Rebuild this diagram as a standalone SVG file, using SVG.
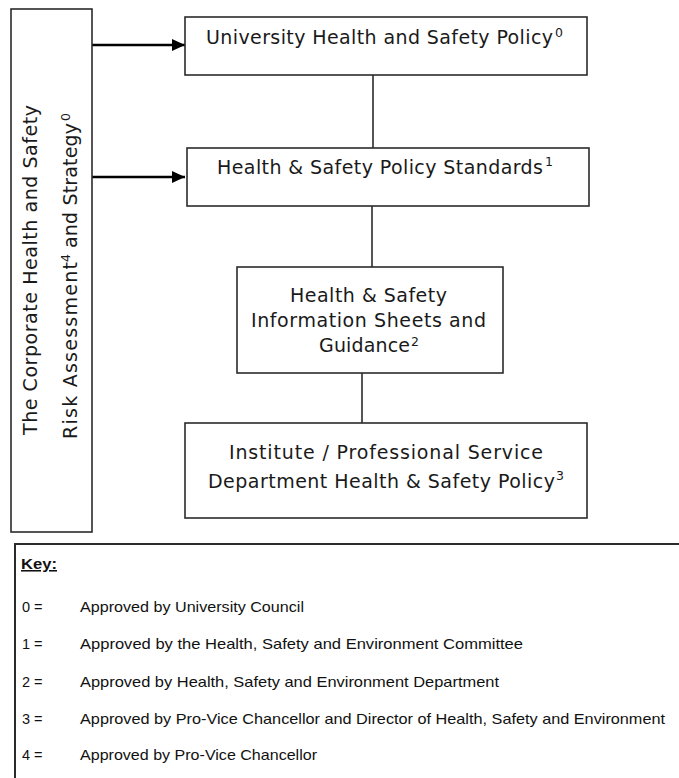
<svg xmlns="http://www.w3.org/2000/svg" width="679" height="778" viewBox="0 0 679 778">
  <style>
    .box { fill: #ffffff; stroke: #2b2b2b; stroke-width: 1.6; }
    .link { stroke: #2b2b2b; stroke-width: 1.6; fill: none; }
    .arrow { stroke: #000000; stroke-width: 2.6; fill: none; }
    .t { font-family: "DejaVu Sans", Verdana, sans-serif; font-size: 19px; fill: #1a1a1a; }
    .sup { font-family: "DejaVu Sans", Verdana, sans-serif; font-size: 12.5px; fill: #1a1a1a; }
    .key { font-family: "Liberation Sans", Arial, sans-serif; font-size: 14.5px; fill: #111111; }
    .keyhead { font-family: "Liberation Sans", Arial, sans-serif; font-size: 15.5px; font-weight: bold; fill: #111111; text-decoration: underline; }
  </style>
  <defs>
    <marker id="head" markerUnits="userSpaceOnUse" markerWidth="14" markerHeight="12" refX="13" refY="6" orient="auto">
      <path d="M0,0 L13,6 L0,12 Z" fill="#000000"/>
    </marker>
  </defs>

  <rect width="679" height="778" fill="#ffffff"/>

  <!-- connectors -->
  <g id="connectors">
    <line class="arrow" x1="92" y1="45" x2="185" y2="45" marker-end="url(#head)"/>
    <line class="arrow" x1="92" y1="177" x2="185" y2="177" marker-end="url(#head)"/>
    <line class="link" x1="373" y1="75" x2="373" y2="148"/>
    <line class="link" x1="372" y1="206" x2="372" y2="267"/>
    <line class="link" x1="362" y1="373" x2="362" y2="423"/>
  </g>

  <!-- corporate strategy side panel -->
  <g id="corporate-strategy">
    <rect class="box" x="11" y="9" width="81" height="523"/>
    <g transform="rotate(-90)">
      <text class="t" x="-435" y="37" textLength="330" lengthAdjust="spacing">The Corporate Health and Safety</text>
      <text class="t" x="-439" y="77" textLength="177" lengthAdjust="spacing">Risk Assessment</text>
      <text class="sup" x="-262" y="70">4</text>
      <text class="t" x="-248" y="77" textLength="125" lengthAdjust="spacing">and Strategy</text>
      <text class="sup" x="-121" y="70">0</text>
    </g>
  </g>

  <g id="university-policy">
    <rect class="box" x="185" y="17" width="402" height="58"/>
    <text class="t" x="206" y="44" textLength="347" lengthAdjust="spacing">University Health and Safety Policy</text>
    <text class="sup" x="555" y="37">0</text>
  </g>

  <g id="policy-standards">
    <rect class="box" x="187" y="148" width="402" height="58"/>
    <text class="t" x="217" y="174" textLength="326" lengthAdjust="spacing">Health &amp; Safety Policy Standards</text>
    <text class="sup" x="545" y="166">1</text>
  </g>

  <g id="information-sheets">
    <rect class="box" x="237" y="267" width="266" height="106"/>
    <text class="t" x="290" y="302" textLength="157" lengthAdjust="spacing">Health &amp; Safety</text>
    <text class="t" x="251" y="327" textLength="235" lengthAdjust="spacing">Information Sheets and</text>
    <text class="t" x="319" y="352" textLength="91" lengthAdjust="spacing">Guidance</text>
    <text class="sup" x="411" y="346">2</text>
  </g>

  <g id="department-policy">
    <rect class="box" x="185" y="423" width="402" height="95"/>
    <text class="t" x="229" y="459" textLength="314" lengthAdjust="spacing">Institute / Professional Service</text>
    <text class="t" x="208" y="488" textLength="347" lengthAdjust="spacing">Department Health &amp; Safety Policy</text>
    <text class="sup" x="556" y="480">3</text>
  </g>

  <!-- approval key -->
  <g id="key">
    <rect x="15" y="544" width="680" height="250" fill="#ffffff" stroke="#2b2b2b" stroke-width="2"/>
    <text class="keyhead" x="21" y="569" textLength="36" lengthAdjust="spacingAndGlyphs">Key:</text>
    <text class="key" x="22" y="612">0 =</text>
    <text class="key" x="80" y="612" textLength="224" lengthAdjust="spacingAndGlyphs">Approved by University Council</text>
    <text class="key" x="22" y="649">1 =</text>
    <text class="key" x="80" y="649" textLength="443" lengthAdjust="spacingAndGlyphs">Approved by the Health, Safety and Environment Committee</text>
    <text class="key" x="22" y="687">2 =</text>
    <text class="key" x="80" y="687" textLength="419" lengthAdjust="spacingAndGlyphs">Approved by Health, Safety and Environment Department</text>
    <text class="key" x="22" y="724">3 =</text>
    <text class="key" x="80" y="724" textLength="585" lengthAdjust="spacingAndGlyphs">Approved by Pro-Vice Chancellor and Director of Health, Safety and Environment</text>
    <text class="key" x="22" y="760">4 =</text>
    <text class="key" x="80" y="760" textLength="237" lengthAdjust="spacingAndGlyphs">Approved by Pro-Vice Chancellor</text>
  </g>
</svg>
